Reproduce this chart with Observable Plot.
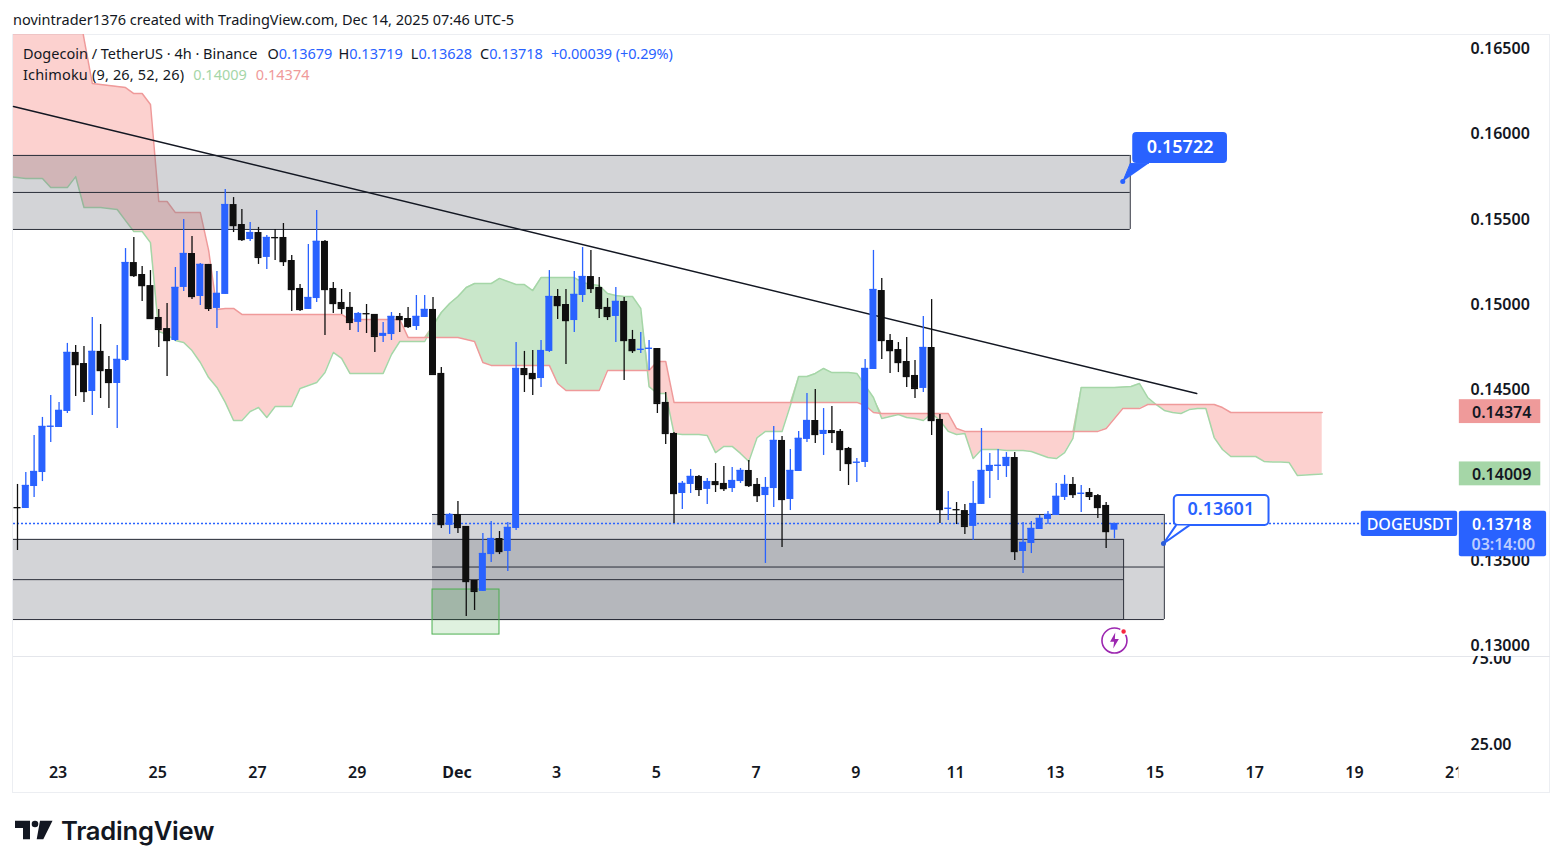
<!DOCTYPE html>
<html>
<head>
<meta charset="utf-8">
<script src="https://cdn.jsdelivr.net/npm/d3@7"></script>
<script src="https://cdn.jsdelivr.net/npm/@observablehq/plot@0.6"></script>
<style>
  html, body { margin: 0; padding: 0; background: #fff; width: 1563px; height: 868px; overflow: hidden; }
  body { position: relative; font-family: "Noto Sans", sans-serif; color: #131722; }
  #head { position: absolute; left: 13px; top: 9px; font-size: 14.5px; line-height: 20px; white-space: nowrap; letter-spacing: 0.01px; }
  #pane { position: absolute; left: 12px; top: 34px; width: 1538px; height: 759px; border: 1px solid #eceef2; box-sizing: border-box; }
  #split { position: absolute; left: 13px; top: 656px; width: 1537px; height: 1px; background: #e4e6eb; }
  #price, #lower { position: absolute; left: 0; }
  #price { top: 34px; }
  #lower { top: 656px; }
  #legend { position: absolute; left: 23px; top: 43px; font-size: 14.5px; line-height: 21px; white-space: nowrap; }
  #legend b { font-weight: 400; color: #2962ff; }
  #legend span { margin-left: 8px; }
  #legend .sym { margin-left: 10px; }
  #legend .hi { margin-left: 6px; }
  #legend .ichi { letter-spacing: 0.17px; }
  #legend .ichi span { margin-left: 9px; letter-spacing: 0; }
  #legend .chg { margin-left: 8px; letter-spacing: -0.1px; }
  #logo { position: absolute; left: 15px; top: 820px; }
  #brand { position: absolute; left: 61px; top: 814px; font-family: Inter, sans-serif; font-weight: 600; font-size: 25.6px; line-height: 34px; color: #131722; letter-spacing: -0.25px; }
</style>
</head>
<body>
<div id="head">novintrader1376 created with TradingView.com, Dec 14, 2025 07:46 UTC-5</div>
<div id="pane"></div>
<div id="split"></div>
<div id="price"></div>
<div id="lower"></div>
<div id="legend">
  <div>Dogecoin / TetherUS · 4h · Binance<span class="sym">O<b>0.13679</b></span><span class="hi">H<b>0.13719</b></span><span>L<b>0.13628</b></span><span>C<b>0.13718</b></span><span class="chg"><b>+0.00039 (+0.29%)</b></span></div>
  <div class="ichi">Ichimoku (9, 26, 52, 26)<span style="color:#a5d6a7">0.14009</span><span style="color:#ef9a9a">0.14374</span></div>
</div>
<svg id="logo" width="39" height="20" viewBox="0 0 39 20"><path d="M0 .7h15v18.5H8V8H0zM25 .7h12.5l-9.2 18.5h-6.6z" fill="#131722"/><circle cx="20" cy="4" r="3.3" fill="#131722"/></svg>
<div id="brand">TradingView</div>
<script>
// one row per 4h candle
const opens = [
  0.13812,0.13806,0.13935,0.14017,0.14287,0.14281,0.14375,0.14721,0.14656,0.14492,
  0.14727,0.14621,0.14539,0.14674,0.15248,0.15178,0.15113,0.14926,0.14861,0.14791,
  0.15102,0.15301,0.15049,0.15237,0.14979,0.15061,0.15588,0.15471,0.15383,0.15424,
  0.15278,0.15395,0.15395,0.15260,0.15096,0.14973,0.15037,0.15372,0.15096,0.15014,
  0.14985,0.14897,0.14949,0.14944,0.14815,0.14826,0.14932,0.14920,0.14873,0.14926,
  0.14973,0.14598,0.13707,0.13771,0.13701,0.13384,0.13320,0.13536,0.13630,0.13554,
  0.13689,0.14627,0.14598,0.14568,0.14727,0.15049,0.15002,0.14908,0.15055,0.15166,
  0.15102,0.14985,0.14932,0.15020,0.14797,0.14738,0.14744,0.14744,0.14428,0.14246,
  0.13894,0.13947,0.13994,0.13918,0.13964,0.13953,0.13923,0.13964,0.14029,0.13947,
  0.13882,0.13923,0.14205,0.13859,0.14023,0.14211,0.14322,0.14240,0.14263,0.14258,
  0.14158,0.14076,0.14076,0.14621,0.15084,0.14791,0.14738,0.14668,0.14586,0.14510,
  0.14750,0.14328,0.13806,0.13800,0.13794,0.13701,0.13830,0.14023,0.14058,0.14052,
  0.14105,0.13554,0.13601,0.13683,0.13742,0.13765,0.13871,0.13947,0.13894,0.13900,
  0.13882,0.13824,0.13679
]
const highs = [
  0.13947,0.14017,0.14234,0.14340,0.14469,0.14428,0.14774,0.14762,0.14756,0.14926,
  0.14885,0.14697,0.14762,0.15330,0.15395,0.15225,0.15201,0.14973,0.15008,0.15219,
  0.15500,0.15401,0.15243,0.15237,0.15196,0.15676,0.15629,0.15559,0.15483,0.15454,
  0.15407,0.15442,0.15477,0.15289,0.15119,0.15354,0.15553,0.15377,0.15131,0.15090,
  0.15073,0.14955,0.15002,0.14944,0.14897,0.14955,0.14949,0.14985,0.15055,0.15055,
  0.15043,0.14633,0.13777,0.13847,0.13701,0.13384,0.13660,0.13730,0.13671,0.13724,
  0.14779,0.14727,0.14732,0.14791,0.15201,0.15090,0.15090,0.15196,0.15336,0.15319,
  0.15160,0.15037,0.15102,0.15043,0.14850,0.14838,0.14791,0.14744,0.14486,0.14252,
  0.13964,0.14035,0.14000,0.13982,0.14070,0.14052,0.14047,0.14041,0.14088,0.13982,
  0.13988,0.14287,0.14228,0.14152,0.14258,0.14480,0.14504,0.14392,0.14404,0.14269,
  0.14164,0.14099,0.14680,0.15319,0.15155,0.14826,0.14779,0.14809,0.14674,0.14932,
  0.15031,0.14357,0.13906,0.13841,0.13830,0.13964,0.14275,0.14129,0.14152,0.14134,
  0.14134,0.13724,0.13730,0.13765,0.13789,0.13953,0.14000,0.13988,0.13941,0.13923,
  0.13888,0.13841,0.13719
]
const lows = [
  0.13560,0.13806,0.13871,0.13964,0.14193,0.14281,0.14363,0.14463,0.14428,0.14351,
  0.14451,0.14392,0.14275,0.14668,0.15160,0.15020,0.14914,0.14750,0.14580,0.14785,
  0.15078,0.15031,0.14996,0.14961,0.14861,0.15061,0.15424,0.15372,0.15372,0.15237,
  0.15207,0.15260,0.15225,0.14961,0.14961,0.14973,0.15014,0.14820,0.14949,0.14944,
  0.14850,0.14838,0.14832,0.14721,0.14779,0.14791,0.14838,0.14861,0.14850,0.14926,
  0.14586,0.13689,0.13654,0.13660,0.13173,0.13208,0.13320,0.13490,0.13536,0.13437,
  0.13677,0.14486,0.14469,0.14516,0.14721,0.14914,0.14650,0.14838,0.15014,0.15067,
  0.14920,0.14908,0.14779,0.14557,0.14715,0.14715,0.14615,0.14363,0.14181,0.13718,
  0.13800,0.13894,0.13877,0.13830,0.13900,0.13906,0.13900,0.13953,0.13929,0.13841,
  0.13484,0.13812,0.13578,0.13794,0.14023,0.14193,0.14187,0.14117,0.14187,0.14023,
  0.13941,0.13959,0.14047,0.14621,0.14680,0.14598,0.14603,0.14516,0.14451,0.14486,
  0.14234,0.13718,0.13736,0.13712,0.13654,0.13619,0.13830,0.13865,0.13970,0.13988,
  0.13501,0.13425,0.13542,0.13683,0.13712,0.13765,0.13853,0.13865,0.13783,0.13853,
  0.13748,0.13572,0.13628
]
const closes = [
  0.13811,0.13941,0.14023,0.14287,0.14288,0.14381,0.14721,0.14650,0.14492,0.14727,
  0.14615,0.14545,0.14680,0.15248,0.15172,0.15113,0.14920,0.14856,0.14791,0.15102,
  0.15301,0.15049,0.15237,0.14979,0.15067,0.15588,0.15465,0.15383,0.15424,0.15278,
  0.15395,0.15394,0.15254,0.15090,0.14973,0.15043,0.15372,0.15090,0.15008,0.14979,
  0.14897,0.14949,0.14948,0.14815,0.14832,0.14932,0.14914,0.14873,0.14932,0.14973,
  0.14592,0.13712,0.13771,0.13695,0.13378,0.13320,0.13542,0.13630,0.13554,0.13695,
  0.14627,0.14592,0.14568,0.14732,0.15049,0.14996,0.14908,0.15061,0.15166,0.15096,
  0.14979,0.14932,0.15020,0.14791,0.14732,0.14739,0.14745,0.14422,0.14246,0.13894,
  0.13953,0.13994,0.13918,0.13964,0.13947,0.13923,0.13970,0.14029,0.13941,0.13882,
  0.13929,0.14205,0.13859,0.14029,0.14217,0.14322,0.14240,0.14263,0.14252,0.14152,
  0.14070,0.14077,0.14627,0.15090,0.14791,0.14732,0.14662,0.14580,0.14510,0.14750,
  0.14322,0.13800,0.13807,0.13799,0.13701,0.13835,0.14029,0.14058,0.14059,0.14105,
  0.13554,0.13607,0.13689,0.13748,0.13771,0.13877,0.13947,0.13888,0.13895,0.13877,
  0.13812,0.13671,0.13718
]

// ichimoku spans, first value sits one bar left of the first candle
const spanA = [
  0.15752,0.15747,0.15741,0.15741,0.15741,0.15688,0.15688,0.15688,0.15752,0.15571,
  0.15571,0.15571,0.15565,0.15559,0.15494,0.15430,0.15430,0.15365,0.14844,0.14826,
  0.14791,0.14779,0.14732,0.14662,0.14574,0.14516,0.14428,0.14322,0.14322,0.14375,
  0.14398,0.14340,0.14404,0.14404,0.14404,0.14510,0.14527,0.14545,0.14603,0.14721,
  0.14686,0.14598,0.14598,0.14598,0.14598,0.14598,0.14709,0.14785,0.14785,0.14785,
  0.14785,0.14879,0.14955,0.15008,0.15049,0.15102,0.15125,0.15125,0.15125,0.15155,
  0.15137,0.15119,0.15119,0.15084,0.15160,0.15160,0.15160,0.15160,0.15160,0.15131,
  0.15119,0.15113,0.15067,0.15055,0.15049,0.15049,0.14979,0.14521,0.14480,0.14480,
  0.14246,0.14240,0.14240,0.14240,0.14234,0.14134,0.14170,0.14170,0.14129,0.14082,
  0.14222,0.14258,0.14258,0.14258,0.14410,0.14580,0.14580,0.14598,0.14627,0.14603,
  0.14603,0.14603,0.14598,0.14527,0.14457,0.14334,0.14346,0.14357,0.14340,0.14334,
  0.14322,0.14363,0.14322,0.14258,0.14240,0.14246,0.14099,0.14152,0.14152,0.14152,
  0.14146,0.14146,0.14146,0.14140,0.14123,0.14105,0.14099,0.14134,0.14217,0.14516,
  0.14516,0.14516,0.14516,0.14516,0.14519,0.14521,0.14539,0.14457,0.14416,0.14381,
  0.14369,0.14363,0.14386,0.14392,0.14392,0.14222,0.14152,0.14111,0.14111,0.14111,
  0.14111,0.14082,0.14079,0.14079,0.14076,0.14000,0.14003,0.14006,0.14009
]
const spanB = [
  0.16960,0.16960,0.16960,0.16960,0.16960,0.16960,0.16960,0.16960,0.16843,0.16561,
  0.16298,0.16292,0.16286,0.16280,0.16274,0.16239,0.16239,0.16175,0.15606,0.15606,
  0.15541,0.15541,0.15541,0.15541,0.15319,0.14973,0.14979,0.14979,0.14944,0.14944,
  0.14944,0.14944,0.14944,0.14944,0.14944,0.14944,0.14944,0.14944,0.14944,0.14944,
  0.14944,0.14914,0.14914,0.14914,0.14914,0.14914,0.14914,0.14914,0.14809,0.14809,
  0.14809,0.14809,0.14809,0.14809,0.14809,0.14797,0.14785,0.14662,0.14645,0.14645,
  0.14645,0.14645,0.14645,0.14645,0.14645,0.14645,0.14539,0.14498,0.14498,0.14498,
  0.14498,0.14498,0.14615,0.14615,0.14615,0.14615,0.14615,0.14615,0.14668,0.14668,
  0.14428,0.14428,0.14428,0.14428,0.14428,0.14428,0.14428,0.14428,0.14428,0.14428,
  0.14428,0.14428,0.14428,0.14428,0.14428,0.14428,0.14428,0.14428,0.14428,0.14428,
  0.14428,0.14428,0.14428,0.14410,0.14369,0.14363,0.14363,0.14363,0.14363,0.14363,
  0.14363,0.14363,0.14363,0.14363,0.14275,0.14258,0.14258,0.14258,0.14258,0.14258,
  0.14258,0.14258,0.14258,0.14258,0.14258,0.14258,0.14258,0.14258,0.14258,0.14258,
  0.14258,0.14258,0.14275,0.14334,0.14392,0.14392,0.14392,0.14416,0.14416,0.14416,
  0.14416,0.14416,0.14416,0.14416,0.14416,0.14416,0.14398,0.14369,0.14369,0.14369,
  0.14369,0.14369,0.14369,0.14369,0.14369,0.14369,0.14369,0.14369,0.14369
]

const priceTicks = [0.13, 0.135, 0.145, 0.15, 0.155, 0.16, 0.165]
const dateTickBars = [5, 17, 29, 41, 65, 77, 89, 101, 113, 125, 137, 149, 161, 173]
const dateTickLabels = ['23', '25', '27', '29', '3', '5', '7', '9', '11', '13', '15', '17', '19', '21']
const monthTickBars = [53]
const monthTickLabels = ['Dec']
const lowerTicks = [25, 75]

// drawings on the chart, in bars and prices
const zoneLeft = [-0.48, -0.48, 49.94]
const zoneRight = [133.9, 133.1, 138]
const zoneTop = [0.15876, 0.13625, 0.13771]
const zoneMid = [0.15659, 0.13389, 0.13463]
const zoneBottom = [0.15442, 0.13155, 0.13155]
const trendBars = [-0.48, 141.9]
const trendPrices = [0.16163, 0.14480]
const lastPrice = 0.13718
const spanATag = 0.14009
const spanBTag = 0.14374

const barDomain = [-0.481, 173.4]
const blue = '#2962ff', black = '#0f0f0f', line = '#2a2e39', ink = '#131722'
const font = '"Noto Sans", sans-serif'

const candles = opens.map((o, i) => ({bar: i, open: o, high: highs[i], low: lows[i], close: closes[i]}))
const spans = spanA.map((a, i) => ({bar: i - 1, a, b: spanB[i]}))
const zones = zoneLeft.map((l, i) => ({l, r: zoneRight[i], top: zoneTop[i], mid: zoneMid[i], bottom: zoneBottom[i]}))
const trend = trendBars.map((bar, i) => ({bar, price: trendPrices[i]}))
const candleColor = d => d.close >= d.open ? blue : black
const five = d3.format('.5f')

const boltSymbol = {
  draw(ctx, size) {
    const r = Math.sqrt(size / Math.PI)
    const p = [[0.1, -1], [-0.55, 0.15], [-0.05, 0.15], [-0.15, 1], [0.55, -0.2], [0.05, -0.2]]
    p.forEach(([x, y], i) => i ? ctx.lineTo(x * r, y * r) : ctx.moveTo(x * r, y * r))
    ctx.closePath()
  }
}

let chart = Plot.plot({
  width: 1563,
  height: 622,
  marginLeft: 13,
  marginRight: 105,
  marginTop: 0,
  marginBottom: 0,
  x: {domain: barDomain, axis: null},
  y: {domain: [0.129384, 0.16585], axis: null},
  style: {fontFamily: font, background: 'transparent', overflow: 'hidden'},
  marks: [
    // cloud
    Plot.areaY(spans, {x: 'bar', y1: 'a', y2: d => Math.max(d.a, d.b), fill: '#f4493f', fillOpacity: 0.25, clip: true}),
    Plot.areaY(spans, {x: 'bar', y1: 'b', y2: d => Math.max(d.a, d.b), fill: '#4caf50', fillOpacity: 0.3, clip: true}),
    Plot.line(spans, {x: 'bar', y: 'a', stroke: '#a5d6a7', strokeWidth: 1.5, clip: true}),
    Plot.line(spans, {x: 'bar', y: 'b', stroke: '#ef9a9a', strokeWidth: 1.5, clip: true}),

    // grey zones
    Plot.rect(zones, {x1: 'l', x2: 'r', y1: 'bottom', y2: 'top', fill: '#787b86', fillOpacity: 0.33}),
    Plot.ruleY(zones, {x1: 'l', x2: 'r', y: 'top', stroke: line, strokeWidth: 1}),
    Plot.ruleY(zones, {x1: 'l', x2: 'r', y: 'mid', stroke: line, strokeWidth: 1}),
    Plot.ruleY(zones, {x1: 'l', x2: 'r', y: 'bottom', stroke: line, strokeWidth: 1}),
    Plot.ruleX(zones, {x: 'r', y1: 'bottom', y2: 'top', stroke: line, strokeWidth: 1}),
    Plot.rect([{}], {x1: 49.94, x2: 58, y1: 0.13067, y2: 0.13331, fill: '#4caf50', fillOpacity: 0.18, stroke: '#4caf50', strokeWidth: 1}),

    // trend line and last price line
    Plot.line(trend, {x: 'bar', y: 'price', stroke: ink, strokeWidth: 1.5}),
    Plot.ruleY([lastPrice], {x1: -0.48, x2: 161.9, stroke: blue, strokeWidth: 1.5, strokeDasharray: '2,2'}),

    // candles
    Plot.ruleX(candles, {x: 'bar', y1: 'low', y2: 'high', stroke: candleColor, strokeWidth: 1.3, clip: true}),
    Plot.rect(candles, {x1: d => d.bar - 0.42, x2: d => d.bar + 0.42, y1: 'open', y2: 'close', fill: candleColor, clip: true}),
    Plot.ruleY(candles, {x1: d => d.bar - 0.42, x2: d => d.bar + 0.42, y: 'close', stroke: candleColor, strokeWidth: 1.3, clip: true}),

    // callouts
    Plot.line([{x: 133, y: 0.15723}, {x: 133.9, y: 0.15829}, {x: 136.1, y: 0.15829}], {x: 'x', y: 'y', fill: blue, stroke: blue, strokeWidth: 1}),
    Plot.dot([{x: 133, y: 0.15723}], {x: 'x', y: 'y', r: 2.5, fill: blue}),
    Plot.rect([{}], {x1: 134.2, x2: 145.6, y1: 0.15829, y2: 0.1601, fill: blue, rx: 4}),
    Plot.text(['0.15722'], {x: 139.9, y: 0.15922, fill: 'white', fontSize: 18, fontWeight: 600}),
    Plot.rect([{}], {x1: 139.2, x2: 150.6, y1: 0.13707, y2: 0.13882, fill: 'white', stroke: blue, strokeWidth: 2, rx: 4}),
    Plot.line([{x: 139.4, y: 0.13707}, {x: 137.9, y: 0.13601}, {x: 141, y: 0.13707}], {x: 'x', y: 'y', fill: 'white', stroke: blue, strokeWidth: 2}),
    Plot.dot([{x: 137.9, y: 0.13601}], {x: 'x', y: 'y', r: 2.5, fill: '#2a5bd7'}),
    Plot.text(['0.13601'], {x: 144.8, y: 0.138, fill: blue, fontSize: 18, fontWeight: 600}),

    // lightning mark under the last candle
    Plot.dot([{}], {x: 132, y: 0.13032, r: 12.5, stroke: '#9c27b0', strokeWidth: 1.6, fill: 'white'}),
    Plot.dot([{}], {x: 132, y: 0.13032, r: 8, symbol: boltSymbol, fill: '#9c27b0'}),
    Plot.dot([{}], {x: 133.1, y: 0.13085, r: 3, fill: '#f7253f', stroke: 'white'}),

    // price axis and price tags
    Plot.axisY(priceTicks, {anchor: 'right', tickSize: 0, tickPadding: 12, label: null, tickFormat: d3.format('.5f'), fontSize: 16, fontWeight: 600, fill: ink}),
    Plot.rect([spanBTag], {x1: 173.5, x2: 183.3, y1: d => d - 0.0007, y2: d => d + 0.0007, fill: '#ef9a9a'}),
    Plot.text([spanBTag], {x: 178.6, y: d => d, dy: 1, text: five, fontSize: 16, fontWeight: 600, fill: ink}),
    Plot.rect([spanATag], {x1: 173.5, x2: 183.3, y1: d => d - 0.0007, y2: d => d + 0.0007, fill: '#a5d6a7'}),
    Plot.text([spanATag], {x: 178.6, y: d => d, dy: 1, text: five, fontSize: 16, fontWeight: 600, fill: ink}),
    Plot.rect([lastPrice], {x1: 161.7, x2: 173.3, y1: d => d - 0.00076, y2: d => d + 0.00072, fill: blue, rx: 2}),
    Plot.text(['DOGEUSDT'], {x: 167.5, y: lastPrice, dy: 1, fill: 'white', fontSize: 16, fontWeight: 500}),
    Plot.rect([lastPrice], {x1: 173.5, x2: 184, y1: d => d - 0.00195, y2: d => d + 0.00072, fill: blue, rx: 2}),
    Plot.text([lastPrice], {x: 178.6, y: d => d, dy: 1, text: five, fill: 'white', fontSize: 16, fontWeight: 600}),
    Plot.text(['03:14:00'], {x: 178.8, y: 0.1359, fill: 'white', fillOpacity: 0.7, fontSize: 16, fontWeight: 600})
  ]
})
d3.select('#price').append(() => chart)

// lower pane only holds the date axis and the two oscillator levels
let lower = Plot.plot({
  width: 1563,
  height: 137,
  marginLeft: 13,
  marginRight: 105,
  marginTop: 0,
  marginBottom: 31,
  x: {domain: barDomain, axis: null},
  y: {domain: [14.53, 76.16], axis: null},
  style: {fontFamily: font, background: 'transparent', overflow: 'hidden'},
  marks: [
    Plot.axisX(dateTickBars, {anchor: 'bottom', tickSize: 0, tickPadding: 4, dx: -1, label: null, tickFormat: d => dateTickLabels[dateTickBars.indexOf(d)], fontSize: 16, fontWeight: 600, fill: ink}),
    Plot.axisX(monthTickBars, {anchor: 'bottom', tickSize: 0, tickPadding: 4, dx: -1, label: null, tickFormat: d => monthTickLabels[monthTickBars.indexOf(d)], fontSize: 16, fontWeight: 700, fill: ink}),
    // the last date label is cut by the price scale
    Plot.rect([{}], {x1: 173.44, x2: 184, y1: 0, y2: 14.5, fill: 'white'}),
    Plot.axisY(lowerTicks, {anchor: 'right', tickSize: 0, tickPadding: 12, label: null, tickFormat: d3.format('.2f'), fontSize: 16, fontWeight: 600, fill: ink})
  ]
})
d3.select('#lower').append(() => lower)
</script>
</body>
</html>
